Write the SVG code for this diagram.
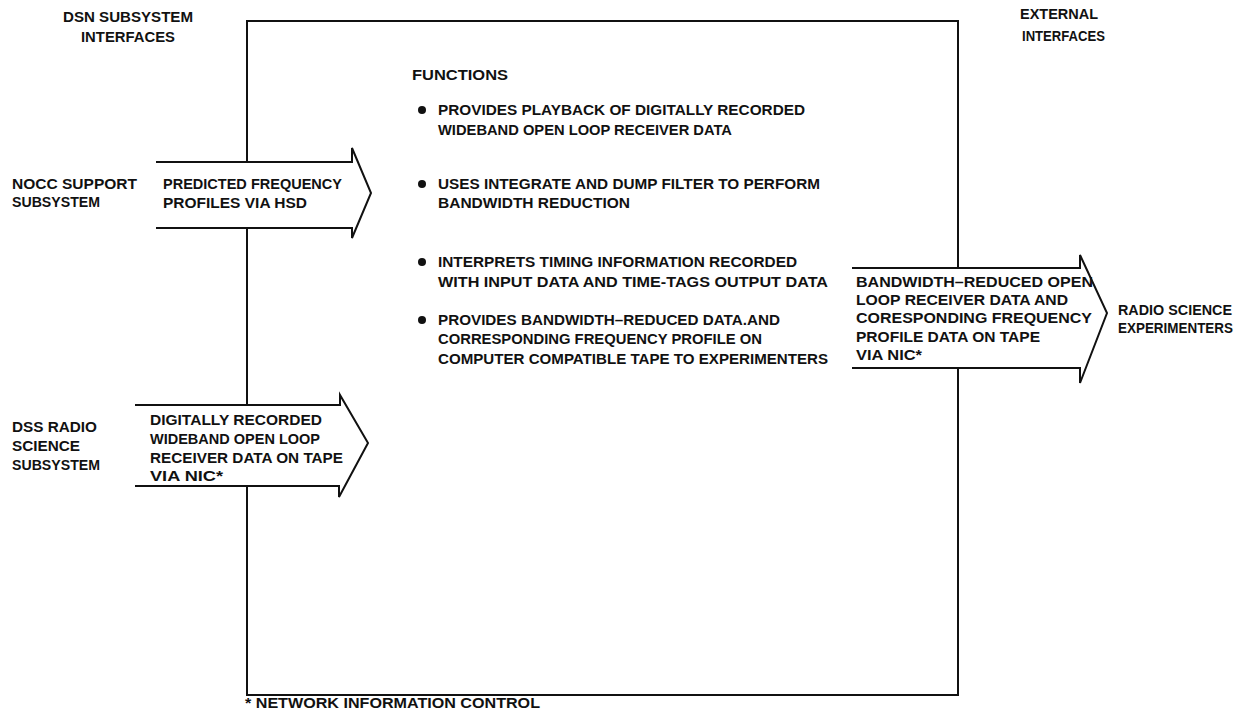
<svg xmlns="http://www.w3.org/2000/svg" width="1250" height="720" viewBox="0 0 1250 720">
<style>
text{font-family:"Liberation Sans","DejaVu Sans",sans-serif;font-size:14px;font-weight:bold;fill:#111}
.ln{fill:none;stroke:#111;stroke-width:2}
.af{fill:#fff;stroke:none}
</style>
<rect width="1250" height="720" fill="#fff"/>
<g id="headers">
<text x="63" y="22" textLength="130" lengthAdjust="spacingAndGlyphs">DSN SUBSYSTEM</text>
<text x="81" y="42" textLength="94" lengthAdjust="spacingAndGlyphs">INTERFACES</text>
<text x="1020" y="19" textLength="78" lengthAdjust="spacingAndGlyphs">EXTERNAL</text>
<text x="1022" y="41" textLength="83" lengthAdjust="spacingAndGlyphs">INTERFACES</text>
</g>
<g id="system-box">
<rect class="ln" x="247" y="21" width="711" height="674"/>
<text x="412" y="80" textLength="96" lengthAdjust="spacingAndGlyphs">FUNCTIONS</text>
<circle cx="422" cy="110" r="4" fill="#111"/>
<text x="438" y="115" textLength="367" lengthAdjust="spacingAndGlyphs">PROVIDES PLAYBACK OF DIGITALLY RECORDED</text>
<text x="438" y="135" textLength="294" lengthAdjust="spacingAndGlyphs">WIDEBAND OPEN LOOP RECEIVER DATA</text>
<circle cx="422" cy="184" r="4" fill="#111"/>
<text x="438" y="189" textLength="382" lengthAdjust="spacingAndGlyphs">USES INTEGRATE AND DUMP FILTER TO PERFORM</text>
<text x="438" y="208" textLength="192" lengthAdjust="spacingAndGlyphs">BANDWIDTH REDUCTION</text>
<circle cx="422" cy="262" r="4" fill="#111"/>
<text x="438" y="267" textLength="359" lengthAdjust="spacingAndGlyphs">INTERPRETS TIMING INFORMATION RECORDED</text>
<text x="438" y="287" textLength="390" lengthAdjust="spacingAndGlyphs">WITH INPUT DATA AND TIME-TAGS OUTPUT DATA</text>
<circle cx="422" cy="320" r="4" fill="#111"/>
<text x="438" y="325" textLength="342" lengthAdjust="spacingAndGlyphs">PROVIDES BANDWIDTH–REDUCED DATA.AND</text>
<text x="438" y="344" textLength="324" lengthAdjust="spacingAndGlyphs">CORRESPONDING FREQUENCY PROFILE ON</text>
<text x="438" y="364" textLength="390" lengthAdjust="spacingAndGlyphs">COMPUTER COMPATIBLE TAPE TO EXPERIMENTERS</text>
</g>
<g id="nocc">
<text x="12" y="189" textLength="125" lengthAdjust="spacingAndGlyphs">NOCC SUPPORT</text>
<text x="12" y="207" textLength="88" lengthAdjust="spacingAndGlyphs">SUBSYSTEM</text>
</g>
<g id="dss">
<text x="12" y="432" textLength="85" lengthAdjust="spacingAndGlyphs">DSS RADIO</text>
<text x="12" y="451" textLength="68" lengthAdjust="spacingAndGlyphs">SCIENCE</text>
<text x="12" y="470" textLength="88" lengthAdjust="spacingAndGlyphs">SUBSYSTEM</text>
</g>
<g id="experimenters">
<text x="1118" y="315" textLength="114" lengthAdjust="spacingAndGlyphs">RADIO SCIENCE</text>
<text x="1118" y="333" textLength="115" lengthAdjust="spacingAndGlyphs">EXPERIMENTERS</text>
</g>
<g id="connectors">
<g id="arrow-predicted">
<polygon class="af" points="156,162 352,162 352,148 371,193 352,238 352,228 156,228"/>
<path class="ln" d="M156,162 H352 V148 L371,193 L352,238 V228 H156"/>
<text x="163" y="189" textLength="179" lengthAdjust="spacingAndGlyphs">PREDICTED FREQUENCY</text>
<text x="163" y="208" textLength="144" lengthAdjust="spacingAndGlyphs">PROFILES VIA HSD</text>
</g>
<g id="arrow-recorded">
<polygon class="af" points="135,405 340,405 340,395 368,443 339,497 339,486 135,486"/>
<path class="ln" d="M135,405 H340 V395 L368,443 L339,497 V486 H135"/>
<text x="150" y="425" textLength="172" lengthAdjust="spacingAndGlyphs">DIGITALLY RECORDED</text>
<text x="150" y="444" textLength="170" lengthAdjust="spacingAndGlyphs">WIDEBAND OPEN LOOP</text>
<text x="150" y="463" textLength="193" lengthAdjust="spacingAndGlyphs">RECEIVER DATA ON TAPE</text>
<text x="150" y="481" textLength="73" lengthAdjust="spacingAndGlyphs">VIA NIC*</text>
</g>
<g id="arrow-reduced">
<polygon class="af" points="852,268 1080,268 1080,255 1107,313 1080,383 1080,368 852,368"/>
<path class="ln" d="M852,268 H1080 V255 L1107,313 L1080,383 V368 H852"/>
<text x="856" y="287" textLength="237" lengthAdjust="spacingAndGlyphs">BANDWIDTH–REDUCED OPEN</text>
<text x="856" y="305" textLength="212" lengthAdjust="spacingAndGlyphs">LOOP RECEIVER DATA AND</text>
<text x="856" y="323" textLength="236" lengthAdjust="spacingAndGlyphs">CORESPONDING FREQUENCY</text>
<text x="856" y="342" textLength="184" lengthAdjust="spacingAndGlyphs">PROFILE DATA ON TAPE</text>
<text x="856" y="360" textLength="66" lengthAdjust="spacingAndGlyphs">VIA NIC*</text>
</g>
</g>
<g id="footnote">
<text x="245" y="708" textLength="295" lengthAdjust="spacingAndGlyphs">* NETWORK INFORMATION CONTROL</text>
</g>
</svg>
